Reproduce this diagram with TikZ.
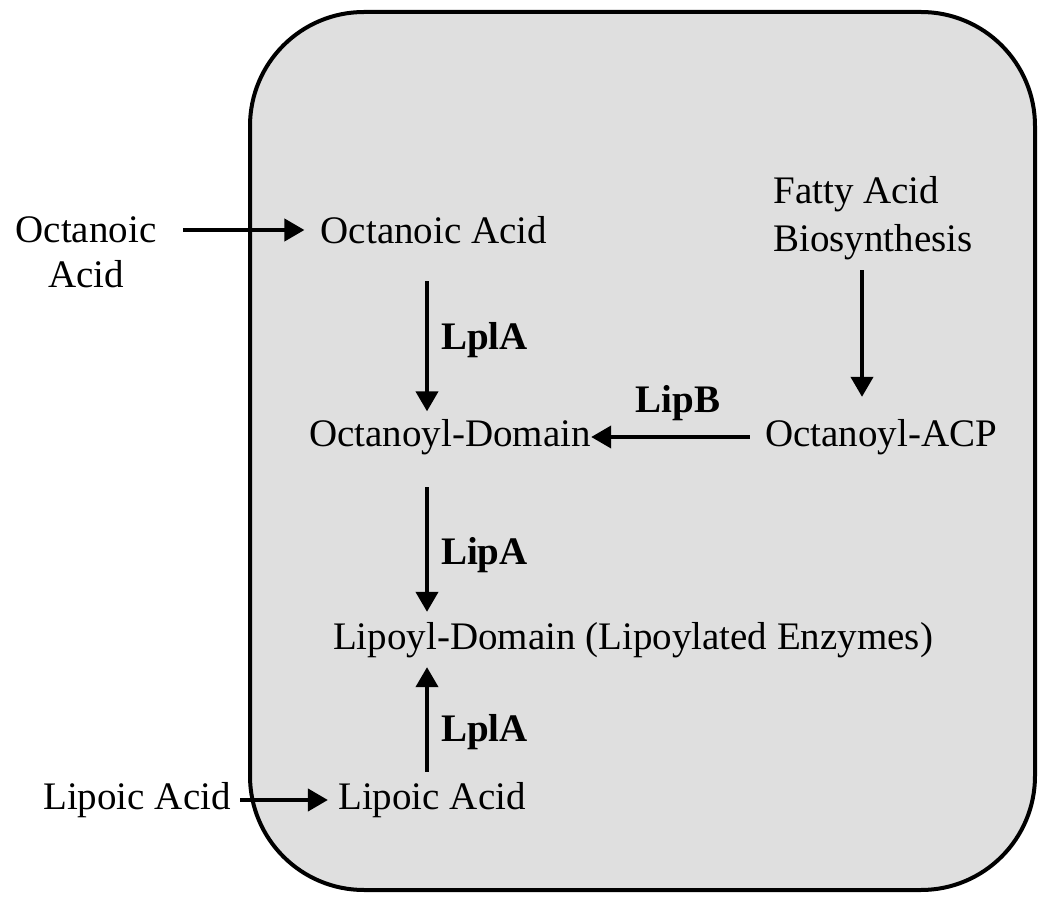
\documentclass[tikz,border=0pt]{standalone}
\usepackage{fontspec}
\setmainfont{Liberation Serif}
\usetikzlibrary{arrows.meta,calc}

\begin{document}
\begin{tikzpicture}[x=0.5pt,y=-0.5pt]
\tikzstyle{chem}=[inner sep=0pt,font=\fontsize{19.5}{22.5}\selectfont]
\tikzstyle{enz}=[inner sep=0pt,font=\fontsize{19.5}{22.5}\selectfont\bfseries]
\tikzstyle{arr}=[line width=2pt,-{Triangle[length=10pt,width=11pt]}]
\definecolor{cellgray}{gray}{0.875}

\useasboundingbox (0,0) rectangle (1050,919);

% cell
\draw[line width=2pt,fill=cellgray,rounded corners=57pt] (250,12) rectangle (1035,890);

\node [chem,align=center,anchor=north] (octL) at (86,216) {Octanoic\\Acid};
\node [chem] (octA) at (434,230) {Octanoic Acid};
\node [chem,align=left,anchor=north west,font=\fontsize{19.5}{24}\selectfont] (fab) at (773,176) {Fatty Acid\\Biosynthesis};
\node [chem] (octD) at (450,437) {Octanoyl-Domain};
\node [chem] (octACP) at (881,437) {Octanoyl-ACP};
\node [chem] (lipD) at (633,640) {Lipoyl-Domain (Lipoylated Enzymes)};
\node [chem] (lipA) at (432,800) {Lipoic Acid};
\node [chem] (lipL) at (137,800) {Lipoic Acid};

\coordinate (col) at (427,0);
\coordinate (fcol) at (862,0);

\draw[arr,shorten <=13pt,shorten >=8pt] (octA -| octL.east) -- (octA.west);
\draw[arr,shorten <=18.5pt,shorten >=3.75pt] (octA.south -| col) -- node[enz,right=6pt,pos=0.55] {LplA} (octD.north -| col);
\draw[arr,shorten <=5pt,shorten >=11pt] (fab.south -| fcol) -- (octACP.north -| fcol);
\draw[arr,shorten <=7.5pt] (octACP.west) -- node[enz,above=7pt] {LipB} (octD.east);
\draw[arr,shorten <=16pt,shorten >=5pt] (octD.south -| col) -- node[enz,right=6pt,pos=0.6] {LipA} (lipD.north -| col);
\draw[arr,shorten <=5pt,shorten >=4.5pt] (lipA.north -| col) -- node[enz,right=6pt,pos=0.4] {LplA} (lipD.south -| col);
\draw[arr,shorten <=4.5pt,shorten >=5pt] (lipL.east) -- (lipA.west);

\end{tikzpicture}
\end{document}
